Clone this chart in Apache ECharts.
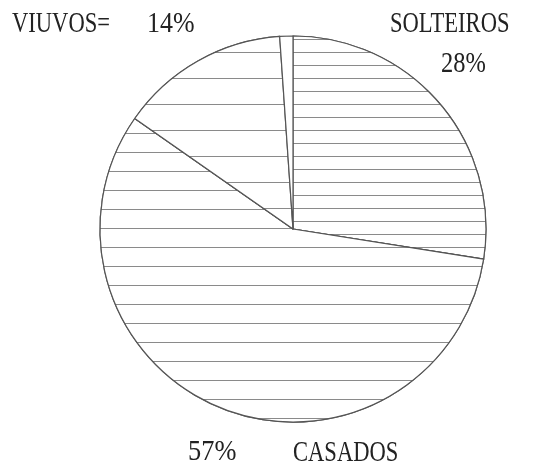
<!DOCTYPE html>
<html lang="pt">
<head>
    <meta charset="UTF-8">
    <title>Estado civil</title>
    <script src="https://cdn.jsdelivr.net/npm/echarts@6.0.0/dist/echarts.min.js"></script>
    <style>
        body { margin: 0; background: #fff; }
        #chart { width: 546px; height: 464px; }
    </style>
</head>
<body>
    <div id="chart"></div>
    <script>
        // dados
        const categorias = ['SOLTEIROS', 'CASADOS', 'VIUVOS', ''];
        const valores = [27.5, 57.2, 14.2, 1.1];
        const rotulosPct = ['28%', '57%', '14%'];

        // espaçamento da hachura por fatia (px)
        const hachura = [13, 19, 26, 0];

        const chart = echarts.init(document.getElementById('chart'), null, { renderer: 'canvas' });

        const dados = categorias.map((nome, i) => {
            const item = {
                name: nome || 'outros',
                value: valores[i],
                itemStyle: { color: '#fff' }
            };
            if (hachura[i] > 0) {
                item.itemStyle.decal = {
                    symbol: 'rect',
                    symbolSize: 1,
                    color: '#8a8a8a',
                    backgroundColor: '#fff',
                    dashArrayX: [1, 0],
                    dashArrayY: [1, hachura[i] - 1],
                    rotation: 0
                };
            }
            return item;
        });

        // fonte serifada estreita e alta, como na figura
        const fonte = { fontFamily: 'Liberation Serif', fontSize: 24, fill: '#222' };
        const texto = (x, y, t, sx) => ({
            type: 'text', x: x, y: y,
            scaleX: sx || 0.94, scaleY: 1.2,
            style: Object.assign({ text: t, textAlign: 'left', textVerticalAlign: 'top' }, fonte)
        });

        chart.setOption({
            animation: false,
            backgroundColor: '#fff',
            series: [{
                type: 'pie',
                center: [293, 229],
                radius: 193,
                startAngle: 90,
                clockwise: true,
                label: { show: false },
                labelLine: { show: false },
                emphasis: { disabled: true },
                itemStyle: { borderColor: '#555', borderWidth: 1.2 },
                data: dados
            }],
            graphic: [
                texto(12, 10, categorias[2] + '='),
                texto(147, 10, rotulosPct[2], 1.08),
                texto(390, 10, categorias[0]),
                texto(441, 50, rotulosPct[0], 1.02),
                texto(188, 438, rotulosPct[1], 1.1),
                texto(293, 439, categorias[1])
            ]
        });
    </script>
</body>
</html>
